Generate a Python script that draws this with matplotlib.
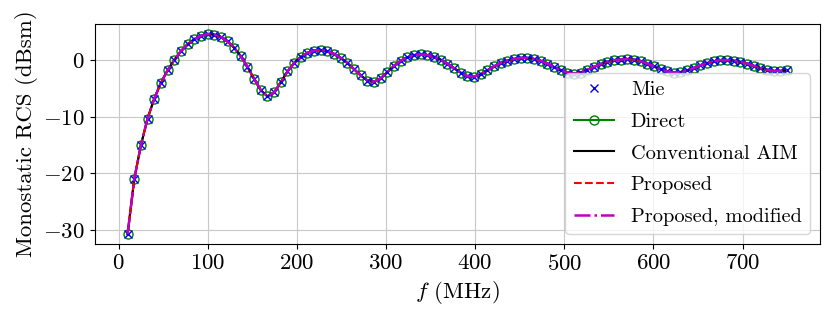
import numpy as np
import matplotlib
matplotlib.use('Agg')
import matplotlib.pyplot as plt

# --- datos ---
freq_mhz = np.linspace(10, 750, 100)

rcs_mie = [
    -30.7, -21.0, -15.0, -10.3, -6.8, -4.0, -1.8, 0.0, 1.6, 2.8,
    3.7, 4.3, 4.6, 4.5, 4.1, 3.3, 2.2, 0.7, -1.2, -3.3,
    -5.3, -6.4, -5.7, -3.9, -2.0, -0.5, 0.6, 1.3, 1.7, 1.8,
    1.6, 1.1, 0.4, -0.5, -1.6, -2.7, -3.6, -3.8, -3.2, -2.1,
    -1.0, -0.1, 0.5, 0.9, 1.0, 0.9, 0.6, 0.1, -0.6, -1.4,
    -2.2, -2.8, -2.9, -2.5, -1.8, -1.1, -0.5, -0.1, 0.2, 0.4,
    0.4, 0.2, -0.1, -0.6, -1.2, -1.8, -2.2, -2.4, -2.2, -1.7,
    -1.2, -0.7, -0.3, 0.0, 0.1, 0.2, 0.1, -0.2, -0.6, -1.1,
    -1.6, -2.0, -2.2, -2.1, -1.8, -1.4, -0.9, -0.5, -0.2, 0.0,
    0.0, -0.1, -0.3, -0.6, -1.0, -1.4, -1.7, -1.9, -1.9, -1.8,
]
# los metodos numericos coinciden con Mie a la escala del grafico
rcs_direct = list(rcs_mie)
rcs_aim = list(rcs_mie)
rcs_proposed = list(rcs_mie)
rcs_proposed_mod = list(rcs_mie)

# --- estilo tipo LaTeX ---
plt.rcParams['font.family'] = 'serif'
plt.rcParams['font.serif'] = ['cmr10']
plt.rcParams['mathtext.fontset'] = 'cm'
plt.rcParams['axes.formatter.use_mathtext'] = True
plt.rcParams['axes.unicode_minus'] = True
plt.rcParams['font.size'] = 16.5

fig, ax = plt.subplots(figsize=(8.3, 3.17), dpi=100)
fig.subplots_adjust(left=0.114, right=0.988, top=0.924, bottom=0.230)

ax.plot(freq_mhz, rcs_mie, 'bx', markersize=6, label='Mie', zorder=3)
ax.plot(freq_mhz, rcs_direct, 'g-o', markerfacecolor='none', markersize=6.5,
        linewidth=1.5, label='Direct', zorder=2)
ax.plot(freq_mhz, rcs_aim, 'k-', linewidth=1.5, label='Conventional AIM', zorder=2.1)
ax.plot(freq_mhz, rcs_proposed, 'r--', linewidth=1.5, label='Proposed', zorder=2.2)
ax.plot(freq_mhz, rcs_proposed_mod, 'm-.', linewidth=1.8, label='Proposed, modified', zorder=3.5)

ax.set_xlabel(r'$f$ (MHz)')
ax.set_ylabel('Monostatic RCS (dBsm)')
ax.set_xticks(np.arange(0, 701, 100))
ax.set_yticks([-30, -20, -10, 0])
ax.grid(True, color='#c8c8c8')
ax.legend(loc='lower right', fontsize=14.7, labelspacing=0.65)

fig.savefig('out.png', dpi=100)
